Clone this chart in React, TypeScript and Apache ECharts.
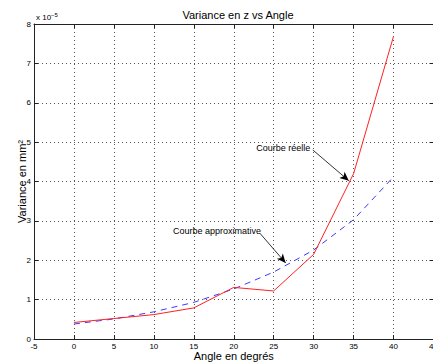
import React, { useEffect, useRef } from "react";
import * as echarts from "echarts";

const angles = [0, 5, 10, 15, 20, 25, 30, 35, 40];
const realValues = [0.42, 0.52, 0.62, 0.79, 1.31, 1.22, 2.15, 4.2, 7.69];
const approxValues = [0.38, 0.51, 0.69, 0.93, 1.27, 1.7, 2.26, 3.03, 4.12];
const xTicks = [-5, 45, 5];
const yTicks = [0, 8, 1];
const titleText = "Variance en z vs Angle";
const xName = "Angle en degrés";
const yName = "Variance en mm²";
const realLabel = "Courbe réelle";
const approxLabel = "Courbe approximative";
const realArrow = [[29.9, 4.8], [34.4, 4.02]];
const approxArrow = [[23.3, 2.68], [26.5, 1.93]];
const realLabelPos = [26.2, 4.85];
const approxLabelPos = [17.9, 2.74];

export default function App() {
  const ref = useRef<HTMLDivElement>(null);
  useEffect(() => {
    if (!ref.current) return;
    const chart = echarts.init(ref.current, null, { renderer: "svg" });
    const font = "Liberation Sans";
    const gridLine = { show: true, lineStyle: { color: "#555", type: [1, 3] as any, width: 1 } };
    const axisLine = { show: true, onZero: false, lineStyle: { color: "#222", width: 1 } };
    chart.setOption({
      animation: false,
      backgroundColor: "#fff",
      textStyle: { fontFamily: font },
      title: {
        text: titleText,
        left: 233,
        textAlign: "center",
        top: 4,
        textStyle: { fontFamily: font, fontSize: 11, fontWeight: "normal", color: "#000" },
      },
      graphic: [
        {
          type: "text",
          left: 36,
          top: 12,
          style: {
            text: "x 10{s|−5}",
            fontFamily: font,
            fontSize: 8,
            fill: "#000",
            rich: { s: { fontSize: 6, verticalAlign: "top", padding: [0, 0, 5, 0] } },
          },
        },
      ],
      grid: { left: 34, right: -0.5, top: 24, bottom: 25, containLabel: false, outerBoundsMode: "none" },
      xAxis: [
        {
          type: "value",
          min: xTicks[0],
          max: xTicks[1],
          interval: xTicks[2],
          name: xName,
          nameLocation: "middle",
          nameGap: 11,
          nameMoveOverlap: false,
          nameTextStyle: { fontFamily: font, fontSize: 11, color: "#000" },
          axisLine,
          axisTick: { show: true, inside: true, length: 4, lineStyle: { color: "#222" } },
          axisLabel: { fontFamily: font, fontSize: 8, color: "#000", margin: 3 },
          splitLine: gridLine,
        },
        {
          type: "value",
          position: "top",
          min: xTicks[0],
          max: xTicks[1],
          interval: xTicks[2],
          axisLine,
          axisTick: { show: true, inside: true, length: 4, lineStyle: { color: "#222" } },
          axisLabel: { show: false },
          splitLine: { show: false },
        },
      ],
      yAxis: [
        {
          type: "value",
          min: yTicks[0],
          max: yTicks[1],
          interval: yTicks[2],
          name: yName,
          nameLocation: "middle",
          nameGap: 7,
          nameMoveOverlap: false,
          nameTextStyle: { fontFamily: font, fontSize: 11, color: "#000" },
          axisLine,
          axisTick: { show: true, inside: true, length: 4, lineStyle: { color: "#222" } },
          axisLabel: { fontFamily: font, fontSize: 8, color: "#000", margin: 3 },
          splitLine: gridLine,
        },
        {
          type: "value",
          position: "right",
          min: yTicks[0],
          max: yTicks[1],
          interval: yTicks[2],
          axisLine,
          axisTick: { show: true, inside: true, length: 4, lineStyle: { color: "#222" } },
          axisLabel: { show: false },
          splitLine: { show: false },
        },
      ],
      series: [
        {
          type: "line",
          data: angles.map((a, i) => [a, approxValues[i]]),
          showSymbol: false,
          lineStyle: { color: "#3a3aff", width: 1, type: [6, 5] as any },
          z: 2,
        },
        {
          type: "line",
          data: angles.map((a, i) => [a, realValues[i]]),
          showSymbol: false,
          lineStyle: { color: "#ff2020", width: 1 },
          z: 3,
          markLine: {
            silent: true,
            symbol: ["none", "arrow"],
            symbolSize: [6, 9],
            lineStyle: { color: "#000", width: 0.8, type: "solid" },
            label: { show: false },
            data: [
              [{ coord: realArrow[0] }, { coord: realArrow[1] }],
              [{ coord: approxArrow[0] }, { coord: approxArrow[1] }],
            ],
          },
          markPoint: {
            silent: true,
            symbol: "circle",
            symbolSize: 0,
            label: { show: true, color: "#000", fontFamily: font, fontSize: 9, position: "inside" },
            data: [
              { coord: realLabelPos, value: realLabel, label: { formatter: realLabel } },
              { coord: approxLabelPos, value: approxLabel, label: { formatter: approxLabel } },
            ],
          },
        },
      ],
    });
    return () => chart.dispose();
  }, []);
  return (
    <div
      ref={ref}
      style={{ position: "fixed", left: 0, top: 0, width: 433, height: 364 }}
    />
  );
}
